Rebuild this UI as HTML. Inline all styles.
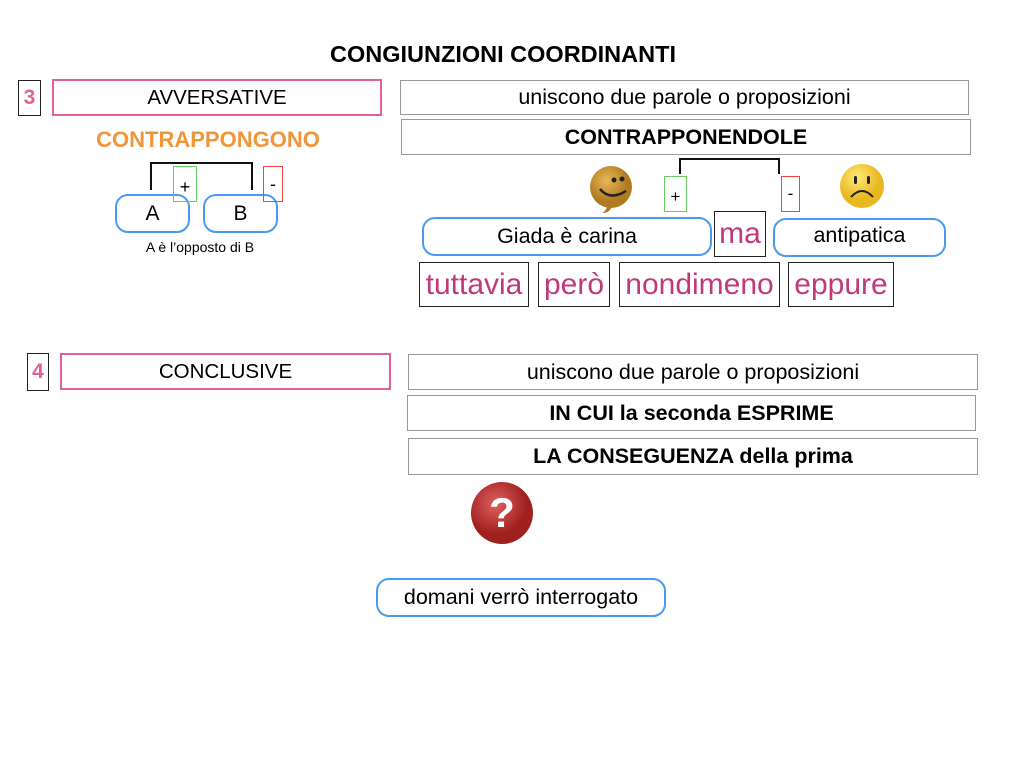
<!DOCTYPE html>
<html><head><meta charset="utf-8"><style>
body{margin:0;width:1024px;height:768px;background:#fff;position:relative;overflow:hidden;font-family:"Liberation Sans",Arial,sans-serif;color:#000}
.a{position:absolute;box-sizing:border-box;display:flex;align-items:center;justify-content:center;white-space:nowrap}
.g{border:1px solid #999;font-size:21.5px}
.pk{border:2px solid #e0609a;font-size:20.5px}
.n{border:1px solid #222;color:#e0609a;font-weight:bold;font-size:21px}
.pill{border:2px solid #4a9af0;border-radius:13px;font-size:21.5px}
.w{border:1px solid #222;color:#c0397a;font-size:30px}
.l{position:absolute;background:#111}
</style></head><body>
<div class="a" style="left:0;width:1006px;top:39px;height:30px;font-weight:bold;font-size:23.5px">CONGIUNZIONI COORDINANTI</div>

<div class="a n" style="left:18px;top:80px;width:23px;height:36px">3</div>
<div class="a pk" style="left:52px;top:79px;width:330px;height:37px">AVVERSATIVE</div>
<div class="a g" style="left:400px;top:80px;width:569px;height:35px">uniscono due parole o proposizioni</div>
<div class="a g" style="left:401px;top:119px;width:570px;height:36px;font-weight:bold">CONTRAPPONENDOLE</div>
<div class="a" style="left:60px;top:126px;width:296px;height:28px;color:#f0963a;font-weight:bold;font-size:22px">CONTRAPPONGONO</div>

<div class="l" style="left:150px;top:162px;width:103px;height:2px"></div>
<div class="l" style="left:150px;top:162px;width:2px;height:28px"></div>
<div class="l" style="left:251px;top:162px;width:2px;height:28px"></div>
<div class="a pill" style="left:115px;top:194px;width:75px;height:39px;font-size:21px">A</div>
<div class="a pill" style="left:203px;top:194px;width:75px;height:39px;font-size:21px">B</div>
<div class="a" style="left:173px;top:166px;width:24px;height:36px;border:1px solid #6c6;font-size:18px;padding-top:6px">+</div>
<div class="a" style="left:263px;top:166px;width:20px;height:36px;border:1px solid #e44;font-size:18px">-</div>
<div class="a" style="left:100px;top:238px;width:200px;height:18px;font-size:14px">A è l’opposto di B</div>

<div class="l" style="left:679px;top:158px;width:101px;height:2px"></div>
<div class="l" style="left:679px;top:158px;width:2px;height:16px"></div>
<div class="l" style="left:778px;top:158px;width:2px;height:16px"></div>
<div class="a" style="left:664px;top:176px;width:23px;height:36px;border:1px solid #6c6;font-size:17px;padding-top:6px">+</div>
<div class="a" style="left:781px;top:176px;width:19px;height:36px;border:1px solid #e44;font-size:17px">-</div>
<svg style="position:absolute;left:588px;top:165px" width="48" height="50"><defs><radialGradient id="s1" cx="40%" cy="35%"><stop offset="0" stop-color="#e8b858"/><stop offset="1" stop-color="#b07a20"/></radialGradient></defs><circle cx="23" cy="22" r="21" fill="url(#s1)"/><path d="M20 40 q-2 6 -6 8 q8 0 10 -7z" fill="#b07a20"/><circle cx="26" cy="15" r="2.5" fill="#222"/><circle cx="34" cy="14" r="2.5" fill="#222"/><path d="M12 24 q10 12 26 2" stroke="#222" stroke-width="2.5" fill="none"/></svg>
<svg style="position:absolute;left:839px;top:163px" width="46" height="46"><defs><radialGradient id="s2" cx="40%" cy="30%"><stop offset="0" stop-color="#ffe97a"/><stop offset="1" stop-color="#e8b820"/></radialGradient></defs><circle cx="23" cy="23" r="22" fill="url(#s2)"/><rect x="15" y="13" width="3" height="8" rx="1.5" fill="#222"/><rect x="28" y="13" width="3" height="8" rx="1.5" fill="#222"/><path d="M12 34 q11 -12 22 0" stroke="#222" stroke-width="2" fill="none"/></svg>

<div class="a pill" style="left:422px;top:217px;width:290px;height:39px">Giada è carina</div>
<div class="a" style="left:714px;top:211px;width:52px;height:46px;border:1px solid #222;color:#c0397a;font-size:30px">ma</div>
<div class="a pill" style="left:773px;top:218px;width:173px;height:39px;align-items:flex-start;padding-top:3px">antipatica</div>

<div class="a w" style="left:419px;top:262px;width:110px;height:45px">tuttavia</div>
<div class="a w" style="left:538px;top:262px;width:72px;height:45px">però</div>
<div class="a w" style="left:619px;top:262px;width:161px;height:45px">nondimeno</div>
<div class="a w" style="left:788px;top:262px;width:106px;height:45px">eppure</div>

<div class="a n" style="left:27px;top:353px;width:22px;height:38px">4</div>
<div class="a pk" style="left:60px;top:353px;width:331px;height:37px">CONCLUSIVE</div>
<div class="a g" style="left:408px;top:354px;width:570px;height:36px">uniscono due parole o proposizioni</div>
<div class="a g" style="left:407px;top:395px;width:569px;height:36px;font-weight:bold">IN CUI la seconda ESPRIME</div>
<div class="a g" style="left:408px;top:438px;width:570px;height:37px;font-weight:bold">LA CONSEGUENZA della prima</div>

<svg style="position:absolute;left:470px;top:481px" width="64" height="64"><defs><radialGradient id="q" cx="40%" cy="35%"><stop offset="0" stop-color="#e06060"/><stop offset="1" stop-color="#a02020"/></radialGradient></defs><circle cx="32" cy="32" r="31" fill="url(#q)"/><text x="32" y="46" text-anchor="middle" font-family="Liberation Sans" font-weight="bold" font-size="42" fill="#fff">?</text></svg>

<div class="a pill" style="left:376px;top:578px;width:290px;height:39px">domani verrò interrogato</div>
</body></html>
